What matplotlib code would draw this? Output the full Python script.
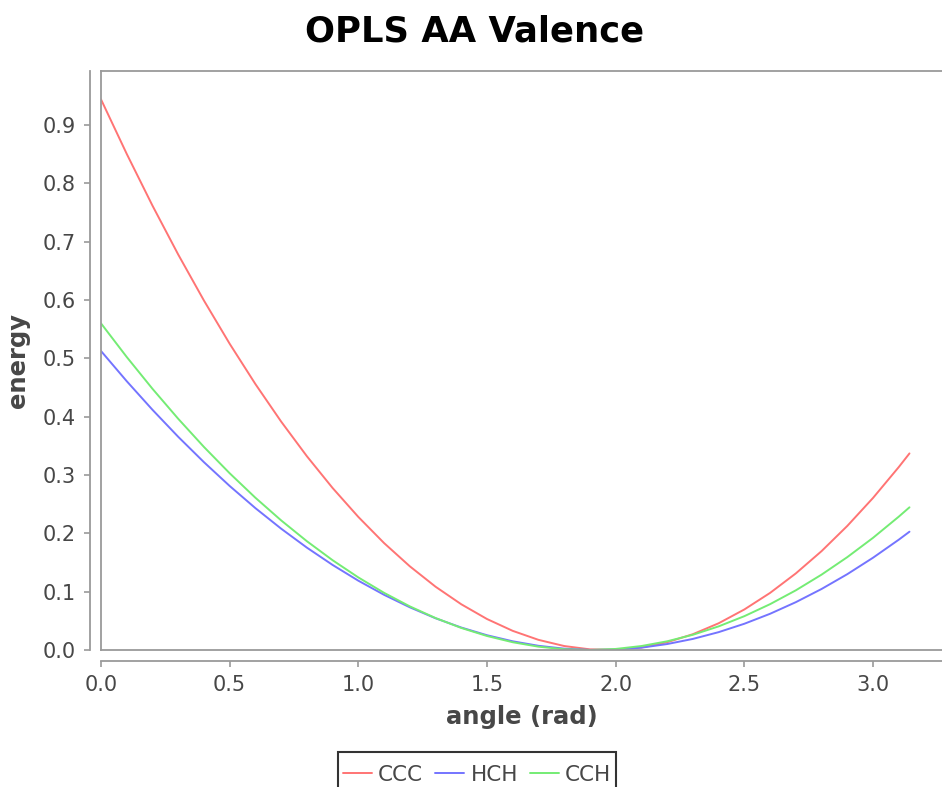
import matplotlib
matplotlib.use("Agg")
import matplotlib.pyplot as plt
from matplotlib.lines import Line2D
from matplotlib.patches import Rectangle

# Bending energy versus valence angle for three OPLS-AA angle types
angle = [0.0, 0.1, 0.2, 0.3, 0.4, 0.5, 0.6, 0.7, 0.8, 0.9,
         1.0, 1.1, 1.2, 1.3, 1.4, 1.5, 1.6, 1.7, 1.8, 1.9,
         2.0, 2.1, 2.2, 2.3, 2.4, 2.5, 2.6, 2.7, 2.8, 2.9,
         3.0, 3.1, 3.1416]

ccc = [0.944, 0.8505, 0.7618, 0.6780, 0.5991, 0.5250, 0.4559, 0.3916, 0.3322, 0.2777,
       0.2281, 0.1833, 0.1435, 0.1085, 0.0784, 0.0531, 0.0328, 0.0174, 0.0068, 0.0011,
       0.0003, 0.0043, 0.0133, 0.0271, 0.0458, 0.0695, 0.0979, 0.1313, 0.1695, 0.2127,
       0.2607, 0.3136, 0.3370]

hch = [0.5126, 0.4608, 0.4118, 0.3655, 0.3220, 0.2812, 0.2432, 0.2080, 0.1755, 0.1458,
       0.1188, 0.0946, 0.0732, 0.0544, 0.0385, 0.0253, 0.0149, 0.0072, 0.0023, 0.0001,
       0.0007, 0.0040, 0.0102, 0.0190, 0.0306, 0.0450, 0.0621, 0.0820, 0.1046, 0.1300,
       0.1582, 0.1891, 0.2028]

cch = [0.560, 0.5023, 0.4478, 0.3964, 0.3481, 0.3030, 0.2610, 0.2222, 0.1865, 0.1539,
       0.1244, 0.0980, 0.0748, 0.0548, 0.0378, 0.0240, 0.0133, 0.0057, 0.0013, 0.0000,
       0.0018, 0.0068, 0.0149, 0.0261, 0.0405, 0.0580, 0.0786, 0.1023, 0.1292, 0.1592,
       0.1923, 0.2286, 0.2446]

series_names = ["CCC", "HCH", "CCH"]
series_colors = ["#ff7474", "#7474ff", "#74ec74"]
x_ticks = [0.0, 0.5, 1.0, 1.5, 2.0, 2.5, 3.0]
y_ticks = [0.0, 0.1, 0.2, 0.3, 0.4, 0.5, 0.6, 0.7, 0.8, 0.9]

plt.rcParams["font.family"] = ["DejaVu Sans"]

W, H = 942, 787
fig = plt.figure(figsize=(W / 100, H / 100), dpi=100)
fig.patch.set_facecolor("white")

left, right, top, bottom = 101, 942, 71, 650
ax = fig.add_axes([left / W, 1 - bottom / H, (right - left) / W, (bottom - top) / H])

for name, vals, col in zip(series_names, [ccc, hch, cch], series_colors):
    ax.plot(angle, vals, color=col, lw=1.4, label=name,
            solid_capstyle="round", solid_joinstyle="round")

ax.set_xlim(0, 3.268)
ax.set_ylim(0, 0.9926)
ax.set_xticks(x_ticks)
ax.set_yticks(y_ticks)
ax.set_xticklabels([f"{t:.1f}" for t in x_ticks])
ax.set_yticklabels([f"{t:.1f}" for t in y_ticks])

axis_gray = "#9a9a9a"
text_gray = "#474747"

# offset axis lines
for side in ("left", "bottom"):
    ax.spines[side].set_position(("outward", 8))
    ax.spines[side].set_color(axis_gray)
    ax.spines[side].set_linewidth(1.3)
ax.spines["top"].set_visible(False)
ax.spines["right"].set_visible(False)

# plot-area border
for xs, ys in (([0, 0], [0, 1]), ([0, 1], [1, 1]), ([0, 1], [0, 0])):
    ax.add_line(Line2D(xs, ys, transform=ax.transAxes, color=axis_gray,
                       lw=1.3, clip_on=False))

ax.tick_params(axis="both", direction="out", length=4, width=1.2,
               color=axis_gray, labelcolor=text_gray, labelsize=15, pad=6)

ax.set_xlabel("angle (rad)", fontsize=17.5, fontweight="bold", color=text_gray, labelpad=7)
ax.set_ylabel("energy", fontsize=17.5, fontweight="bold", color=text_gray, labelpad=9)

fig.text(0.504, 1 - 31 / H, "OPLS AA Valence", ha="center", va="center",
         fontsize=25.5, fontweight="bold", color="black")

# legend entries, with a box that runs past the bottom edge
leg = fig.legend(loc="center", bbox_to_anchor=(477 / W, 1 - 775 / H),
                 ncol=3, frameon=False, fontsize=15.5,
                 handlelength=1.35, handletextpad=0.3, columnspacing=0.55,
                 borderpad=0.0, borderaxespad=0)
for t in leg.get_texts():
    t.set_color(text_gray)
fig.add_artist(Rectangle((338 / W, -0.02), (616 - 338) / W, 0.02 + 1 - 752 / H,
                         transform=fig.transFigure, fill=False,
                         edgecolor="#333333", linewidth=1.5))

fig.savefig("out.png", dpi=100)
